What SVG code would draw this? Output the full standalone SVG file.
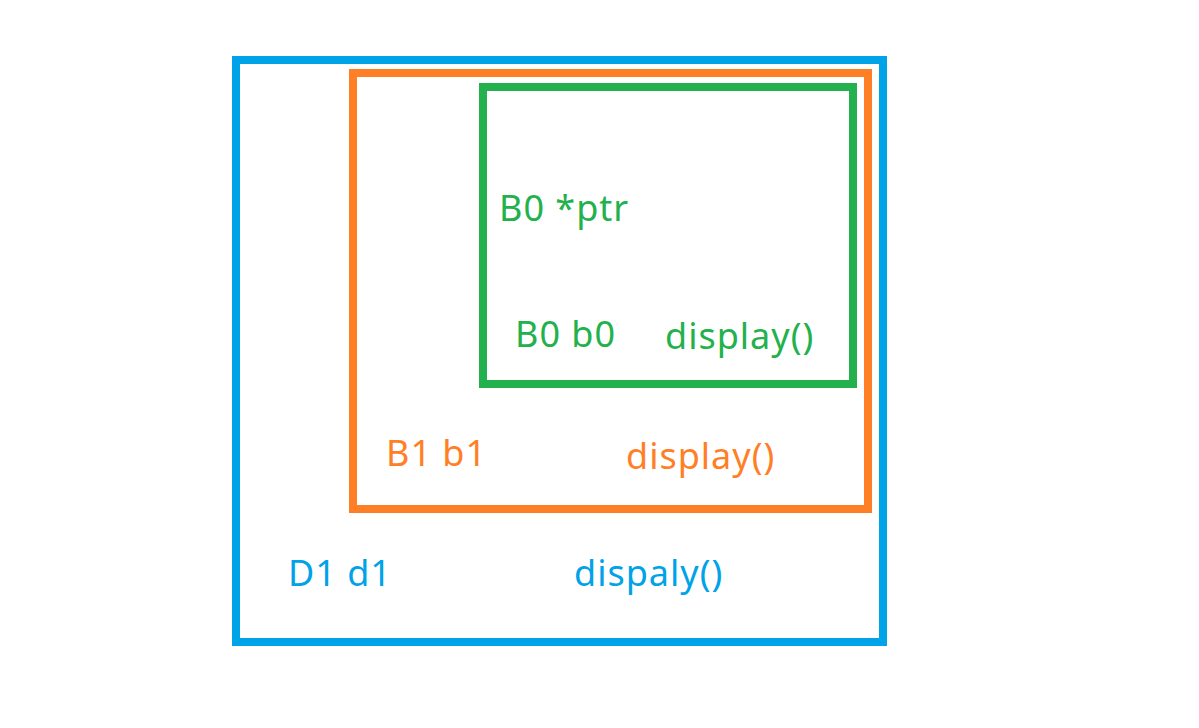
<svg xmlns="http://www.w3.org/2000/svg" width="1199" height="728" viewBox="0 0 1199 728">
<style>
text{font-family:"Noto Sans","Open Sans",sans-serif;font-size:36px;letter-spacing:1px}
.box{fill:none;stroke-width:8}
.b{fill:#00A2E8}.o{fill:#FF7F27}.g{fill:#22B14C}
</style>
<rect width="1199" height="728" fill="#fff"/>
<g id="d1">
<rect class="box" x="236" y="60" width="647" height="582" stroke="#00A2E8"/>
<text class="b" x="288" y="586">D1 d1</text>
<text class="b" x="574" y="586">dispaly()</text>
</g>
<g id="b1">
<rect class="box" x="353" y="73" width="515" height="436" stroke="#FF7F27"/>
<text class="o" x="386" y="466">B1 b1</text>
<text class="o" x="626" y="469">display()</text>
</g>
<g id="b0">
<rect class="box" x="483" y="87" width="370" height="297" stroke="#22B14C"/>
<text class="g" x="499" y="221">B0 *ptr</text>
<text class="g" x="515" y="347">B0 b0</text>
<text class="g" x="665" y="349">display()</text>
</g>
<g id="connectors"/>
</svg>
